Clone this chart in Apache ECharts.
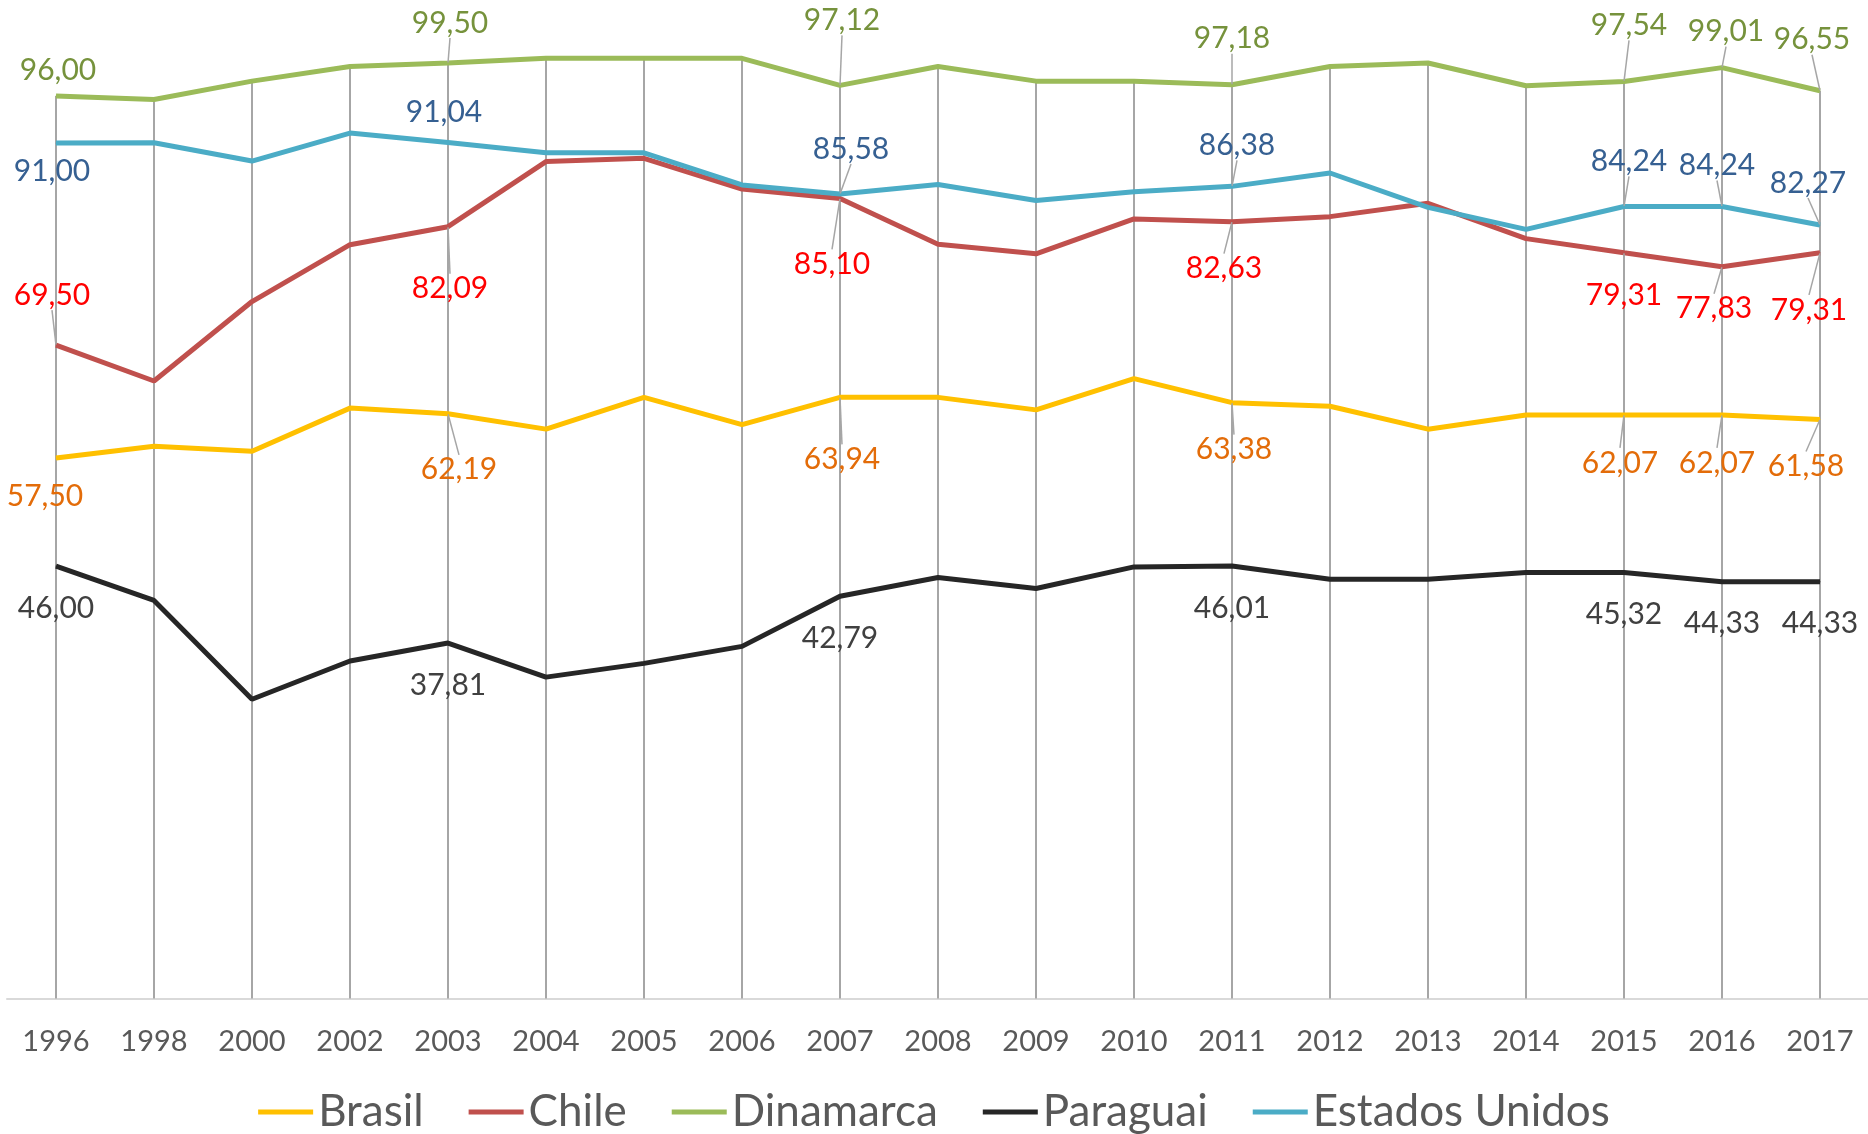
<!DOCTYPE html>
<html>
<head>
<meta charset="utf-8">
<title>Brasil, Chile, Dinamarca, Paraguai, Estados Unidos</title>
<script src="https://cdn.jsdelivr.net/npm/echarts@6/dist/echarts.min.js"></script>
<style>
  html, body { margin: 0; padding: 0; background: #fff; }
  #chart { width: 1868px; height: 1134px; }
</style>
</head>
<body>
<div id="chart"></div>
<script>
// anos
var years = ['1996', '1998', '2000', '2002', '2003', '2004', '2005', '2006', '2007', '2008',
  '2009', '2010', '2011', '2012', '2013', '2014', '2015', '2016', '2017']

// series
var brasil = [57.50, 58.75, 58.21, 62.80, 62.19, 60.56, 63.94, 61.04, 63.94, 63.94,
  62.61, 65.93, 63.38, 63.00, 60.56, 62.07, 62.07, 62.07, 61.58]
var chile = [69.50, 65.68, 74.13, 80.18, 82.09, 89.02, 89.36, 86.09, 85.10, 80.23,
  79.21, 82.92, 82.63, 83.16, 84.58, 80.82, 79.31, 77.83, 79.31]
var dinamarca = [96.00, 95.61, 97.57, 99.13, 99.50, 100.00, 100.00, 100.00, 97.12, 99.13,
  97.57, 97.57, 97.18, 99.13, 99.50, 97.08, 97.54, 99.01, 96.55]
var paraguai = [46.00, 42.34, 31.84, 35.90, 37.81, 34.19, 35.65, 37.46, 42.79, 44.78,
  43.61, 45.91, 46.01, 44.59, 44.59, 45.32, 45.32, 44.33, 44.33]
var estadosUnidos = [91.00, 91.02, 89.07, 92.05, 91.04, 89.95, 89.95, 86.53, 85.58, 86.58,
  84.87, 85.80, 86.38, 87.80, 84.14, 81.80, 84.24, 84.24, 82.27]

// pontos com rotulo
var labelIdx = [0, 4, 8, 12, 16, 17, 18]

// deslocamento dos rotulos (px) em relacao ao ponto, na ordem de labelIdx
var labelOffsets = {
  'Brasil':         [[-11, 38], [11, 56], [2, 62], [2, 47], [-4, 48], [-5, 48], [-14, 47]],
  'Chile':          [[-4, -50], [2, 62], [-8, 66], [-8, 47], [0, 42], [-8, 42], [-11, 57]],
  'Dinamarca':      [[2, -26], [2, -40], [2, -65], [0, -46], [5, -56], [4, -36], [-8, -51]],
  'Paraguai':       [[0, 42], [0, 42], [0, 42], [0, 42], [0, 42], [0, 42], [0, 42]],
  'Estados Unidos': [[-4, 28], [-4, -30], [11, -45], [5, -41], [5, -45], [-5, -41], [-12, -42]]
}
// quais rotulos tem linha de chamada
var leaderIdx = {
  'Brasil': [4, 8, 12, 16, 17, 18],
  'Chile': [0, 4, 8, 12, 16, 17, 18],
  'Dinamarca': [4, 8, 12, 16, 17, 18],
  'Paraguai': [],
  'Estados Unidos': [8, 12, 16, 17, 18]
}

var FONT = 'Lato, "Open Sans", sans-serif'

var defs = [
  { name: 'Brasil', data: brasil, color: '#FFC000', labelColor: '#E36C09' },
  { name: 'Chile', data: chile, color: '#C0504D', labelColor: '#FF0000' },
  { name: 'Dinamarca', data: dinamarca, color: '#9BBB59', labelColor: '#76923C' },
  { name: 'Paraguai', data: paraguai, color: '#262626', labelColor: '#404040' },
  { name: 'Estados Unidos', data: estadosUnidos, color: '#4BACC6', labelColor: '#366092' }
]

function fmt(v) {
  return v.toFixed(2).replace('.', ',')
}

// linhas verticais (drop lines) ate o maior valor de cada ano
var dropTop = years.map(function (y, i) {
  return Math.max(brasil[i], chile[i], dinamarca[i], paraguai[i], estadosUnidos[i])
})

var series = [{
  name: 'drop',
  type: 'bar',
  data: dropTop,
  barWidth: 2,
  itemStyle: { color: '#A6A6A6' },
  silent: true,
  z: 1
}]

defs.forEach(function (d) {
  series.push({
    name: d.name,
    type: 'line',
    data: d.data.map(function (v, i) {
      var k = labelIdx.indexOf(i)
      if (k < 0) return v
      return {
        value: v,
        label: { show: true },
        labelLine: { show: leaderIdx[d.name].indexOf(i) >= 0 }
      }
    }),
    symbol: 'circle',
    symbolSize: 1,
    showSymbol: true,
    showAllSymbol: true,
    clip: false,
    z: 3,
    lineStyle: { color: d.color, width: 5 },
    itemStyle: { color: d.color },
    label: {
      show: false,
      color: d.labelColor,
      fontFamily: FONT,
      fontSize: 30,
      formatter: function (p) { return fmt(p.value) }
    },
    labelLine: {
      show: false,
      lineStyle: { color: '#A6A6A6', width: 1.5 }
    },
    labelLayout: function (p) {
      var k = labelIdx.indexOf(p.dataIndex)
      if (k < 0) return {}
      var off = labelOffsets[d.name][k]
      return {
        x: p.rect.x + p.rect.width / 2 + off[0],
        y: p.rect.y + p.rect.height / 2 + off[1],
        align: 'center',
        verticalAlign: 'middle'
      }
    }
  })
})

var chart = echarts.init(document.getElementById('chart'))
chart.setOption({
  animation: false,
  backgroundColor: '#ffffff',
  grid: [
    { left: 56, right: 48, top: 0, bottom: 135.4 },
    { left: 7, right: 0, top: 0, bottom: 135.4 }
  ],
  legend: {
    data: defs.map(function (d) { return d.name }),
    left: 'center',
    top: 1085,
    icon: 'rect',
    itemWidth: 55,
    itemHeight: 5,
    itemGap: 45,
    textStyle: { fontFamily: FONT, fontSize: 44, color: '#595959' }
  },
  xAxis: [{
    type: 'category',
    gridIndex: 0,
    data: years,
    boundaryGap: false,
    axisLine: { show: false },
    axisTick: { show: false },
    splitLine: { show: false },
    axisLabel: { color: '#595959', fontFamily: FONT, fontSize: 29, margin: 29, interval: 0 }
  }, {
    type: 'value',
    gridIndex: 1,
    min: 0,
    max: 1,
    axisLine: { show: true, lineStyle: { color: '#D9D9D9', width: 2 } },
    axisTick: { show: false },
    axisLabel: { show: false },
    splitLine: { show: false }
  }],
  yAxis: [{
    type: 'value',
    gridIndex: 0,
    min: 0,
    max: 106.2,
    show: false,
    splitLine: { show: false }
  }, {
    type: 'value',
    gridIndex: 1,
    min: 0,
    max: 1,
    show: false
  }],
  series: series
})
</script>
</body>
</html>
